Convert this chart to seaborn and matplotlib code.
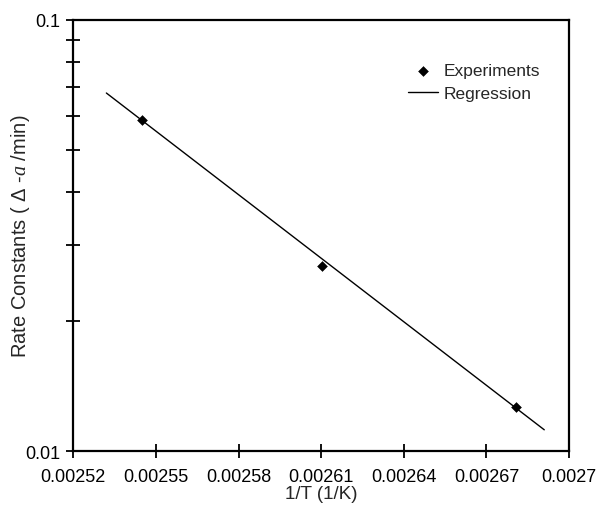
import numpy as np
import pandas as pd
import matplotlib
matplotlib.use('Agg')
import matplotlib.pyplot as plt
import seaborn as sns
from matplotlib.ticker import FixedLocator, NullFormatter

# data
inv_T = [0.0025448, 0.0026104, 0.0026807]
k_exp = [0.0586, 0.0268, 0.01263]

# regression line end points
reg_x = [0.002532, 0.002691]
reg_y = [0.0677, 0.0112]

x_ticks = [0.00252, 0.00255, 0.00258, 0.00261, 0.00264, 0.00267, 0.0027]
x_labels = ['0.00252', '0.00255', '0.00258', '0.00261', '0.00264', '0.00267', '0.0027']

sns.set_style('white')
plt.rcParams['font.family'] = ['Liberation Sans', 'DejaVu Sans']
plt.rcParams['mathtext.fontset'] = 'custom'
plt.rcParams['mathtext.it'] = 'Liberation Serif:italic'
plt.rcParams['mathtext.rm'] = 'Liberation Sans'

df_exp = pd.DataFrame({'x': inv_T, 'y': k_exp})
df_reg = pd.DataFrame({'x': reg_x, 'y': reg_y})

fig = plt.figure(figsize=(5.99, 5.06), dpi=100)
ax = fig.add_axes([0.1224, 0.1067, 0.8276, 0.8518])

sns.lineplot(data=df_reg, x='x', y='y', color='black', linewidth=1, ax=ax, label='Regression')
sns.scatterplot(data=df_exp, x='x', y='y', marker='D', s=25, color='black',
                edgecolor='black', ax=ax, label='Experiments', zorder=3)

ax.set_yscale('log')
ax.set_xlim(0.00252, 0.0027)
ax.set_ylim(0.01, 0.1)

ax.set_xticks(x_ticks)
ax.set_xticklabels(x_labels)
ax.yaxis.set_major_locator(FixedLocator([0.01, 0.1]))
ax.set_yticklabels(['0.01', '0.1'])
ax.yaxis.set_minor_locator(FixedLocator([0.02, 0.03, 0.04, 0.05, 0.06, 0.07, 0.08, 0.09]))
ax.yaxis.set_minor_formatter(NullFormatter())

ax.tick_params(axis='both', which='major', direction='inout', length=10, width=1.3,
               labelsize=13, color='black', labelcolor='black')
ax.tick_params(axis='x', pad=7.5)
ax.tick_params(axis='y', pad=4.5)
ax.tick_params(axis='y', which='minor', direction='inout', length=10, width=1.3,
               color='black', left=True)
ax.tick_params(left=True, bottom=True)

for s in ax.spines.values():
    s.set_color('black')
    s.set_linewidth(1.6)

ax.set_xlabel('1/T (1/K)', fontsize=13.5, labelpad=0)
ax.set_ylabel(r'Rate Constants ( Δ -$\mathit{a}$ /min)', fontsize=14.5, labelpad=-5)

handles, labels = ax.get_legend_handles_labels()
order = [labels.index('Experiments'), labels.index('Regression')]
ax.legend([handles[i] for i in order], [labels[i] for i in order],
          loc='upper left', bbox_to_anchor=(0.644, 0.936), frameon=False,
          fontsize=12.5, handlelength=1.7, handletextpad=0.35, labelspacing=0.45)

fig.savefig('out.png', dpi=100, facecolor='white')
